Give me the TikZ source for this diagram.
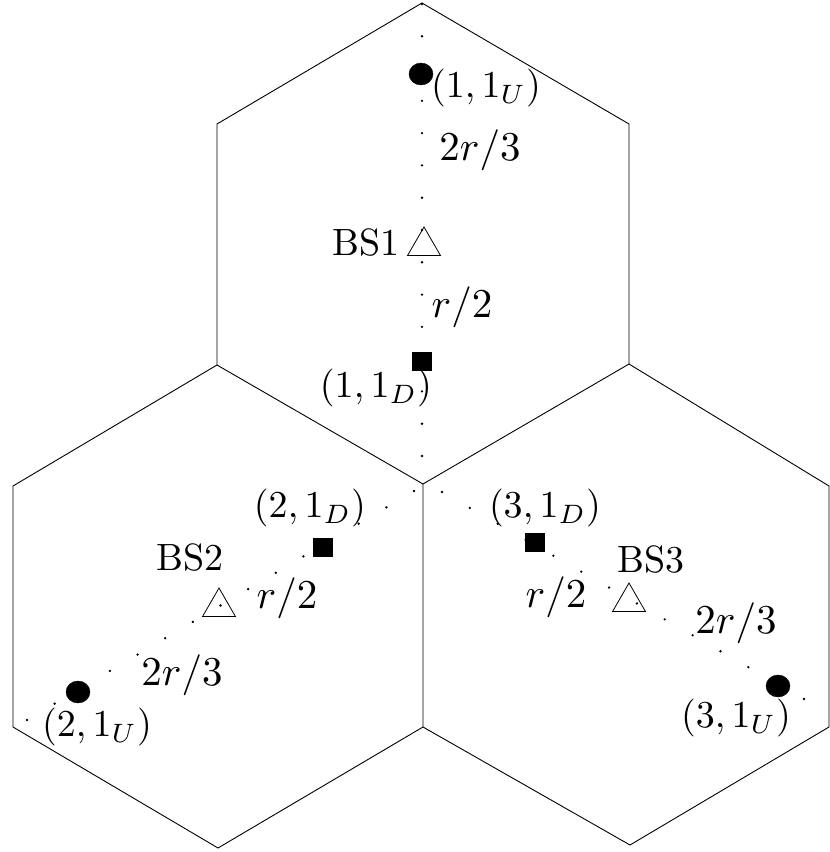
\documentclass[tikz,border=0pt]{standalone}
\usetikzlibrary{calc,shapes.geometric}
\begin{document}
\begin{tikzpicture}[x=1pt,y=-1pt,
  hexline/.style={line width=0.9pt},
  lbl/.style={inner sep=0pt,scale=3.8},
  rlbl/.style={inner sep=0pt,scale=4.1},
  ue/.style={draw,fill=black,ellipse,minimum width=24pt,minimum height=22pt,inner sep=0pt},
  de/.style={draw,fill=black,rectangle,minimum width=19pt,minimum height=18pt,inner sep=0pt},
  bs/.style={draw,regular polygon,regular polygon sides=3,minimum size=38pt,inner sep=0pt,line width=0.8pt},
  dotmark/.style={fill=black}]
\useasboundingbox (0,0) rectangle (830,852);
% hexagon vertices
\coordinate (T) at (422,3);
\coordinate (TL) at (217,124);
\coordinate (TR) at (629,124);
\coordinate (ML) at (217,365);
\coordinate (MR) at (629,364);
\coordinate (C) at (423,484);
\coordinate (LUL) at (13,486);
\coordinate (LLL) at (13,727);
\coordinate (LB) at (218,848);
\coordinate (CB) at (423,727);
\coordinate (RB) at (630,845);
\coordinate (RLR) at (829,727);
\coordinate (RUR) at (829,486);
\draw[hexline] (T) -- (TR) -- (MR) -- (C) -- (ML) -- (TL) -- cycle;
\draw[hexline] (ML) -- (LUL) -- (LLL) -- (LB) -- (CB) -- (C);
\draw[hexline] (MR) -- (RUR) -- (RLR) -- (RB) -- (CB);
% dotted lines
\coordinate (d1a) at (422,4);   \coordinate (d1b) at (422,456);
\coordinate (d2a) at (414,491); \coordinate (d2b) at (27,720);
\coordinate (d3a) at (442,492); \coordinate (d3b) at (804,699);
\foreach \k in {0,...,14} \fill[dotmark] ($(d1a)!\k/14!(d1b)$) circle (1.3);
\foreach \k in {0,...,14} \fill[dotmark] ($(d2a)!\k/14!(d2b)$) circle (1.3);
\foreach \k in {0,...,13} \fill[dotmark] ($(d3a)!\k/13!(d3b)$) circle (1.3);
% cell 1
\node[ue] (u1) at (421,74) {};
\node[de] (s1) at (422,361) {};
\node[bs] (b1) at (424,246) {};
\node[lbl] (u1l) at (486,88) {$(1,1_U)$};
\node[rlbl] (r1a) at (480,150) {$2r/3$};
\node[lbl] (b1l) at (366,243) {BS1};
\node[rlbl] (r1b) at (462,307) {$r/2$};
\node[lbl] (s1l) at (376,388) {$(1,1_D)$};
% cell 2
\node[ue] (u2) at (78,692) {};
\node[de] (s2) at (323,547) {};
\node[bs] (b2) at (219,607) {};
\node[lbl] (s2l) at (310,508) {$(2,1_D)$};
\node[lbl] (b2l) at (190,558) {BS2};
\node[rlbl] (r2b) at (287,598) {$r/2$};
\node[rlbl] (r2a) at (182,675) {$2r/3$};
\node[lbl] (u2l) at (97,727) {$(2,1_U)$};
% cell 3
\node[ue] (u3) at (778,686) {};
\node[de] (s3) at (535,542) {};
\node[bs] (b3) at (629,602) {};
\node[lbl] (s3l) at (545,508) {$(3,1_D)$};
\node[lbl] (b3l) at (651,560) {BS3};
\node[rlbl] (r3b) at (556,597) {$r/2$};
\node[rlbl] (r3a) at (736,623) {$2r/3$};
\node[lbl] (u3l) at (736,718) {$(3,1_U)$};
\end{tikzpicture}
\end{document}
